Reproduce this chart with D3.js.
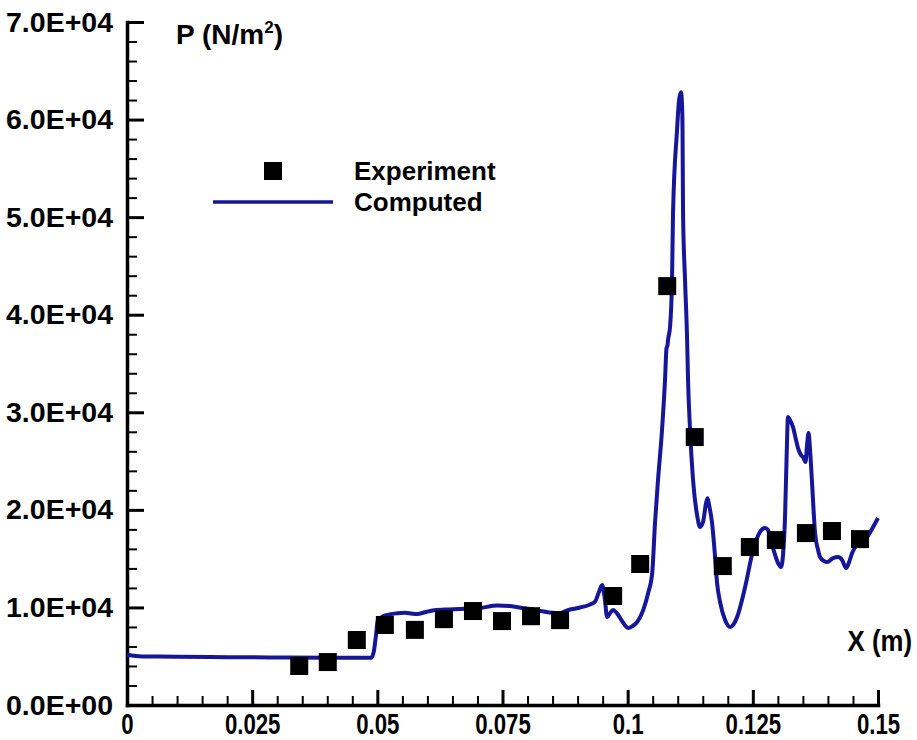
<!DOCTYPE html>
<html>
<head>
<meta charset="utf-8">
<script src="https://cdn.jsdelivr.net/npm/d3@7"></script>
<style>
  html, body { margin: 0; padding: 0; background: #fff; }
  svg text { font-family: "Liberation Sans", Arial, Helvetica, sans-serif; font-weight: bold; fill: #000; }
</style>
</head>
<body>
<svg id="chart" width="917" height="740"></svg>
<script>
// ---------- data ----------
const seriesNames = ["Experiment", "Computed"];

const expX = [0.0344, 0.0401, 0.0459, 0.0515, 0.0575, 0.0633, 0.0691, 0.0749, 0.0807, 0.0865,
              0.0971, 0.1025, 0.1079, 0.1134, 0.1190, 0.1244, 0.1296, 0.1356, 0.1408, 0.1464];
const expP = [4000, 4400, 6660, 8200, 7700, 8800, 9630, 8600, 9100, 8700,
              11170, 14450, 42930, 27460, 14240, 16190, 16900, 17620, 17830, 17000];

const compX = [0, 0.003, 0.010, 0.020, 0.030, 0.040, 0.0488, 0.0493, 0.0497, 0.0501,
  0.0510, 0.0519, 0.0540, 0.0555, 0.0570, 0.0580, 0.0595, 0.0610, 0.0635, 0.0665,
  0.0705, 0.0739, 0.0765, 0.0790, 0.0805, 0.0830, 0.0850, 0.0865, 0.0879, 0.0905,
  0.0925, 0.0935, 0.0942, 0.0949, 0.0954, 0.0959, 0.0966, 0.0971, 0.0978, 0.0990,
  0.1001, 0.1010, 0.1019, 0.1031, 0.1041, 0.1049, 0.10546, 0.10606, 0.10686, 0.10746,
  0.10776, 0.10796, 0.10806, 0.10846, 0.10886, 0.10906, 0.10986, 0.11026, 0.11066, 0.11086,
  0.11096, 0.11106, 0.11146, 0.11186, 0.11206, 0.11246, 0.11306, 0.11386, 0.11446, 0.11505,
  0.11566, 0.11596, 0.11626, 0.11686, 0.11746, 0.11786, 0.11846, 0.11946, 0.12046, 0.12106,
  0.12186, 0.12346, 0.12506, 0.12643, 0.12743, 0.12803, 0.12903, 0.13003, 0.13063, 0.13103,
  0.13143, 0.13173, 0.13203, 0.13243, 0.13303, 0.13363, 0.13403, 0.13463, 0.13503, 0.13553,
  0.13583, 0.13613, 0.13643, 0.13683, 0.13743, 0.13803, 0.13843, 0.13923, 0.13983, 0.14103,
  0.14203, 0.14283, 0.14363, 0.14423, 0.14483, 0.14603, 0.14703, 0.14783, 0.14903, 0.15000];
const compP = [5150, 4980, 4950, 4900, 4870, 4850, 4850, 5500, 7000, 8700,
  9050, 9220, 9400, 9450, 9350, 9320, 9500, 9680, 9780, 9840,
  9940, 10190, 10140, 9950, 9840, 9600, 9450, 9430, 9700, 9990,
  10300, 10600, 11500, 12300, 11000, 9020, 9500, 9730, 9450, 8500,
  7890, 8100, 8500, 9730, 11480, 13520, 18650, 23050, 28180, 33300,
  36580, 36880, 37400, 38730, 43550, 50410, 58910, 61990, 62810, 61480,
  58910, 50410, 43550, 37700, 33300, 28180, 23050, 19470, 18240, 18750,
  20700, 21200, 20500, 18650, 15160, 12500, 10550, 8710, 7990, 8200,
  9020, 12090, 15880, 17730, 18140, 17930, 16090, 14550, 14140, 15370,
  19260, 25100, 29510, 29200, 28480, 27150, 26330, 25610, 25410, 24900,
  26640, 27870, 26130, 22750, 17620, 15880, 15160, 14750, 14650, 15060,
  15160, 14860, 14040, 14650, 15570, 16600, 16900, 17210, 18240, 19160];

const xTickValues = [0, 0.025, 0.05, 0.075, 0.1, 0.125, 0.15];
const xTickLabels = ["0", "0.025", "0.05", "0.075", "0.1", "0.125", "0.15"];
const yTickValues = [0, 10000, 20000, 30000, 40000, 50000, 60000, 70000];
const yTickLabels = ["0.0E+00", "1.0E+04", "2.0E+04", "3.0E+04", "4.0E+04", "5.0E+04", "6.0E+04", "7.0E+04"];
const xTitle = "X (m)";
const yTitle = "P (N/m";

// ---------- layout ----------
const L = 127, R = 878, T = 22, B = 705;
const lineColor = "#16169a";

const svg = d3.select("#chart");
svg.append("rect").attr("width", 917).attr("height", 740).attr("fill", "#fff");

const x = d3.scaleLinear().domain([0, 0.15]).range([L, R]);
const y = d3.scaleLinear().domain([0, 70000]).range([B, T]);

// minor ticks
const xMinor = d3.range(0, 31).map(i => i * 0.005).filter(v => !xTickValues.some(t => Math.abs(t - v) < 1e-9));
const yMinor = d3.range(0, 36).map(i => i * 2000).filter(v => v % 10000 !== 0);

const gxMinor = svg.append("g").attr("transform", `translate(0,${B})`)
  .call(d3.axisBottom(x).tickValues(xMinor).tickSize(-9).tickSizeOuter(0).tickFormat(""));
const gyMinor = svg.append("g").attr("transform", `translate(${L},0)`)
  .call(d3.axisLeft(y).tickValues(yMinor).tickSize(-10).tickSizeOuter(0).tickFormat(""));
[gxMinor, gyMinor].forEach(g => {
  g.select(".domain").remove();
  g.selectAll(".tick line").attr("stroke", "#000").attr("stroke-width", 2);
});

const gx = svg.append("g").attr("transform", `translate(0,${B})`)
  .call(d3.axisBottom(x).tickValues(xTickValues).tickSize(-15).tickSizeOuter(0).tickPadding(8)
    .tickFormat((d, i) => xTickLabels[i]));
const gy = svg.append("g").attr("transform", `translate(${L},0)`)
  .call(d3.axisLeft(y).tickValues(yTickValues).tickSize(-17).tickSizeOuter(0).tickPadding(14)
    .tickFormat((d, i) => yTickLabels[i]));
[gx, gy].forEach(g => {
  g.select(".domain").attr("stroke", "#000").attr("stroke-width", 3.5).attr("stroke-linecap", "square");
  g.selectAll(".tick line").attr("stroke", "#000").attr("stroke-width", 3);
  g.selectAll(".tick text").attr("fill", "#000")
    .style("font-family", '"Liberation Sans", Arial, sans-serif').style("font-weight", "bold");
});
gx.selectAll(".tick text").style("font-size", "30px").attr("transform", "scale(0.74,1)");
gy.selectAll(".tick text").style("font-size", "28.5px");

// axis titles
const yt = svg.append("text").attr("x", 176).attr("y", 44).style("font-size", "28px").text(yTitle);
yt.append("tspan").attr("dy", -11).style("font-size", "17px").text("2");
yt.append("tspan").attr("dy", 11).text(")");

svg.append("text").attr("transform", "translate(912,651) scale(0.86,1)").attr("text-anchor", "end")
  .style("font-size", "30px").text(xTitle);

// computed line
const compData = compX.map((v, i) => ({ x: v, p: compP[i] }));
svg.append("path").datum(compData)
  .attr("fill", "none").attr("stroke", lineColor).attr("stroke-width", 4)
  .attr("stroke-linejoin", "round")
  .attr("d", d3.line().x(d => x(d.x)).y(d => y(d.p)).curve(d3.curveMonotoneX));

// experiment markers
const S = 18;
const expData = expX.map((v, i) => ({ x: v, p: expP[i] }));
svg.append("g").selectAll("rect").data(expData).join("rect")
  .attr("x", d => x(d.x) - S / 2).attr("y", d => y(d.p) - S / 2)
  .attr("width", S).attr("height", S).attr("fill", "#000");

// legend
const lg = svg.append("g");
lg.append("rect").attr("x", 273 - S / 2).attr("y", 171 - S / 2).attr("width", S).attr("height", S).attr("fill", "#000");
lg.append("line").attr("x1", 213).attr("x2", 333).attr("y1", 202).attr("y2", 202)
  .attr("stroke", lineColor).attr("stroke-width", 3.6);
lg.selectAll("text").data(seriesNames).join("text")
  .attr("x", 354).attr("y", (d, i) => 180 + i * 31)
  .style("font-size", "26px").text(d => d);
</script>
</body>
</html>
